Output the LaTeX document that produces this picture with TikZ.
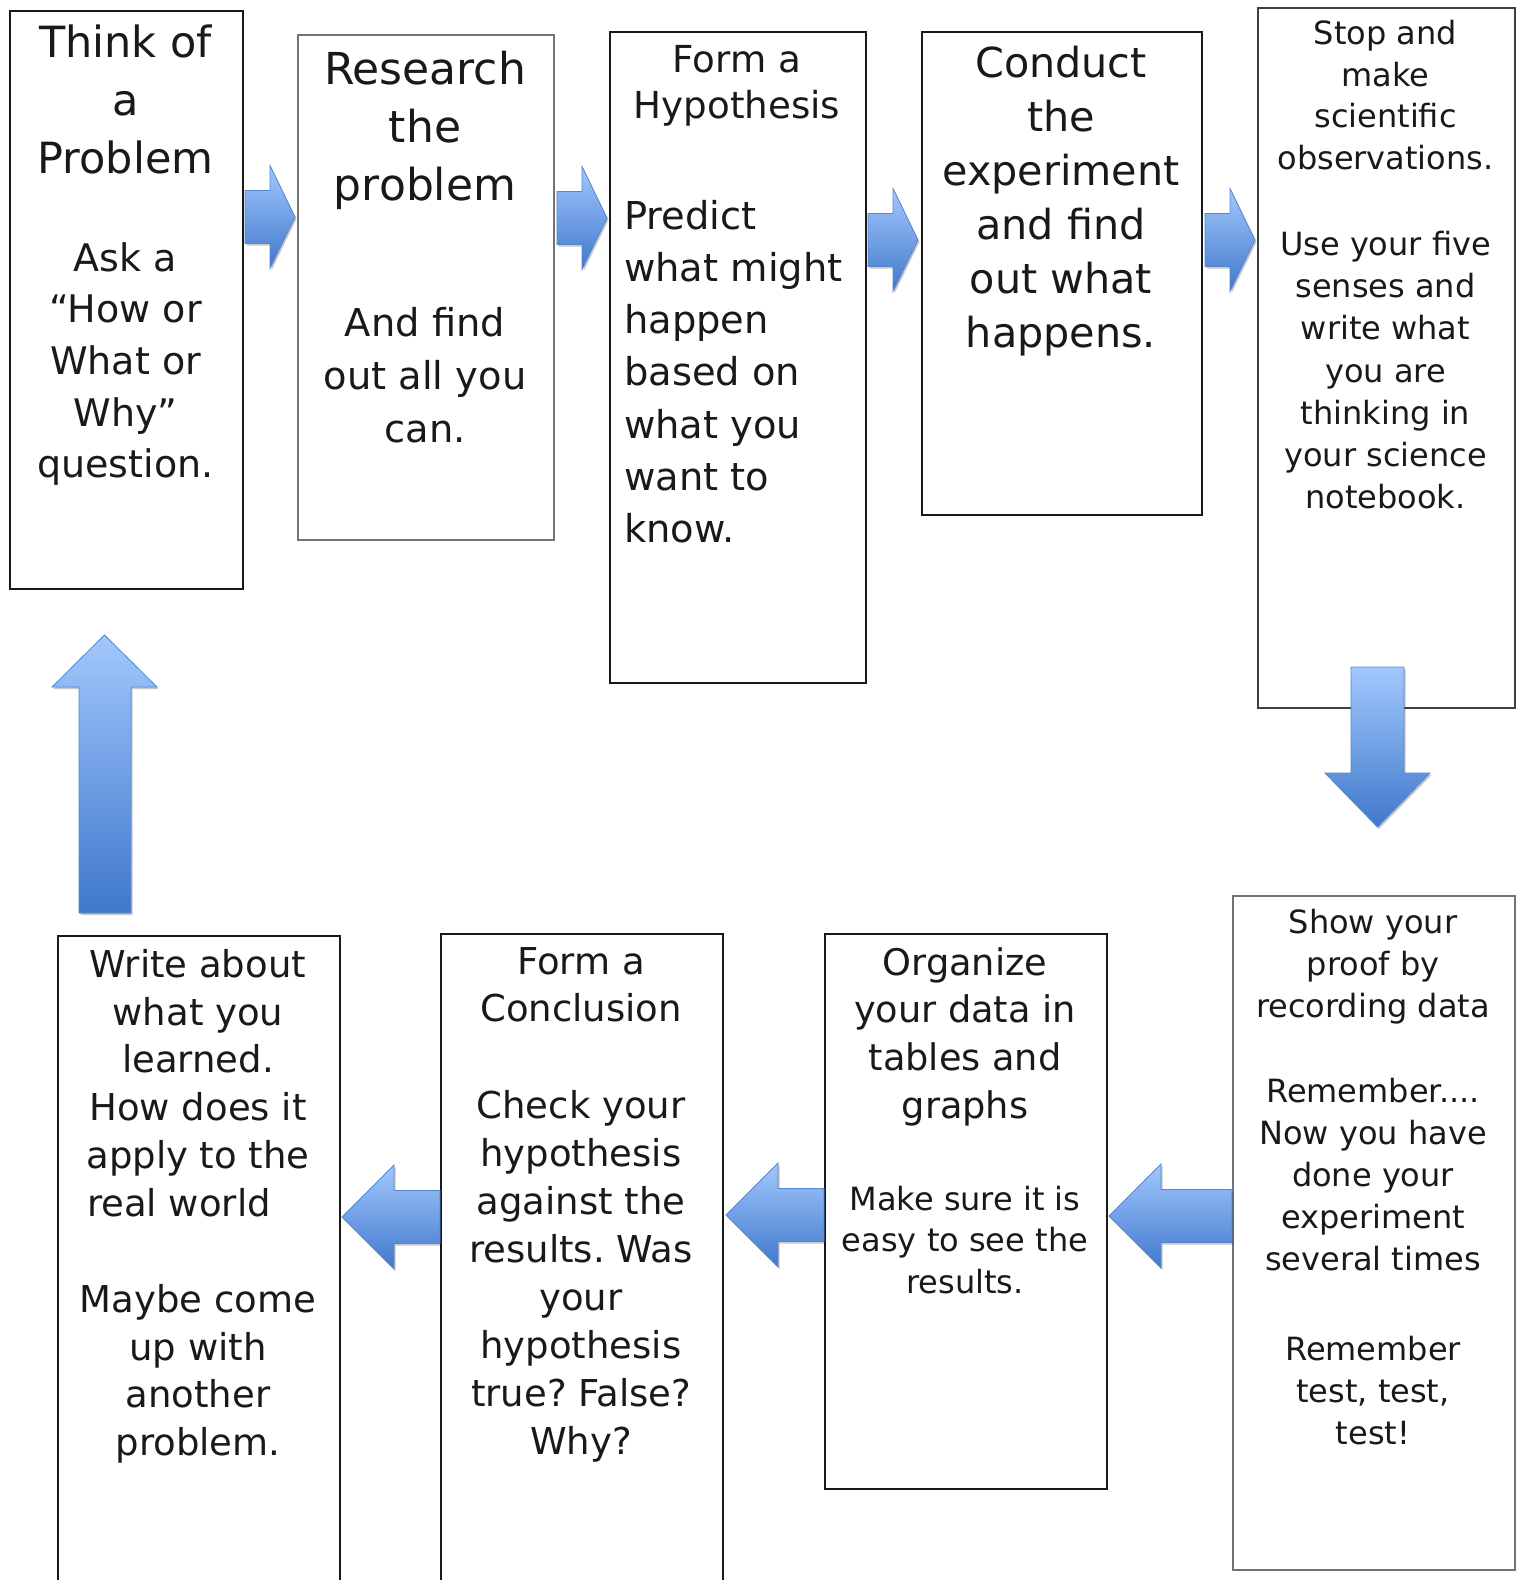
\documentclass[tikz,border=0pt]{standalone}
\usepackage{fontspec}
\setmainfont{DejaVu Sans}
\usetikzlibrary{shadows}
\frenchspacing
\definecolor{atop}{RGB}{162,200,253}
\definecolor{abot}{RGB}{64,120,204}
\definecolor{aedge}{RGB}{86,134,206}
\newcommand{\fsz}[2]{\fontsize{#1}{#2}\selectfont\frenchspacing}
\tikzset{
  box/.style={draw=black!90, line width=1.6pt, fill=white, inner sep=0pt, anchor=north west},
  lightbox/.style={box, draw=black!55},
  txt/.style={inner sep=0pt, align=center, anchor=north, text=black!90, yshift=-3pt},
  barrow/.style={top color=atop, bottom color=abot, draw=aedge, line width=0.8pt, line join=miter,
    drop shadow={shadow xshift=1.5pt, shadow yshift=-2pt, opacity=0.22, fill=black, draw=none}},
}
% right-pointing block arrow: tip x, centre y
\newcommand{\BlkR}[2]{\draw[barrow] ({#1-50},{#2-26.5}) -- ({#1-25},{#2-26.5}) -- ({#1-25},{#2-51.5}) -- (#1,#2) -- ({#1-25},{#2+51.5}) -- ({#1-25},{#2+26.5}) -- ({#1-50},{#2+26.5}) -- cycle;}
% left-pointing block arrow: tip x, centre y, tail x
\newcommand{\BlkL}[3]{\draw[barrow] (#3,{#2-26.5}) -- ({#1+52},{#2-26.5}) -- ({#1+52},{#2-52}) -- (#1,#2) -- ({#1+52},{#2+52}) -- ({#1+52},{#2+26.5}) -- (#3,{#2+26.5}) -- cycle;}
\begin{document}
\begin{tikzpicture}[x=1pt,y=-1pt]
\useasboundingbox (0,0) rectangle (1518,1580);
\fill[white] (0,0) rectangle (1518,1580);
% boxes
\node[box, minimum width=233pt, minimum height=578pt] (b1) at (9,10) {};
\node[lightbox, minimum width=256pt, minimum height=505pt] (b2) at (297,34) {};
\node[box, minimum width=256pt, minimum height=651pt] (b3) at (609,31) {};
\node[box, minimum width=280pt, minimum height=483pt] (b4) at (921,31) {};
\node[box, draw=black!75, minimum width=257pt, minimum height=700pt] (b5) at (1257,7) {};
\node[lightbox, minimum width=282pt, minimum height=674pt] (b6) at (1232,895) {};
\node[box, minimum width=282pt, minimum height=555pt] (b7) at (824,933) {};
\node[box, minimum width=282pt, minimum height=670pt] (b8) at (440,933) {};
\node[box, minimum width=282pt, minimum height=670pt] (b9) at (57,935) {};
% texts
\node[txt, font={\fsz{43}{58}}] (t1a) at (125.5,22) {Think of\\a\\Problem};
\node[txt, font={\fsz{38}{51.7}}] (t1b) at (125.5,239) {Ask a\\“How or\\What or\\Why”\\question.};
\node[txt, font={\fsz{44}{58}}] (t2a) at (425,47.5) {Research\\the\\problem};
\node[txt, font={\fsz{38.4}{53}}] (t2b) at (425,304) {And find\\out all you\\can.};
\node[txt, font={\fsz{37.2}{46.4}}] (t3a) at (737,42) {Form a\\Hypothesis};
\node[txt, anchor=north west, align=left, font={\fsz{38.4}{52.2}}] (t3b) at (624,197) {Predict\\what might\\happen\\based on\\what you\\want to\\know.};
\node[txt, font={\fsz{41.3}{54}}] (t4) at (1061,43) {Conduct\\the\\experiment\\and find\\out what\\happens.};
\node[txt, font={\fsz{32}{41.7}}] (t5a) at (1385.5,17) {Stop and\\make\\scientific\\observations.};
\node[txt, font={\fsz{32}{42.2}}] (t5b) at (1385.5,228) {Use your five\\senses and\\write what\\you are\\thinking in\\your science\\notebook.};
\node[txt, font={\fsz{32}{42}}] (t6a) at (1373,906) {Show your\\proof by\\recording data};
\node[txt, font={\fsz{32}{42}}] (t6b) at (1373,1075) {Remember....\\Now you have\\done your\\experiment\\several times};
\node[txt, font={\fsz{32}{42}}] (t6c) at (1373,1333) {Remember\\test, test,\\test!};
\node[txt, font={\fsz{36.7}{47.7}}] (t7a) at (965,944) {Organize\\your data in\\tables and\\graphs};
\node[txt, font={\fsz{32}{41.3}}] (t7b) at (965,1183) {Make sure it is\\easy to see the\\results.};
\node[txt, font={\fsz{37}{47.4}}] (t8a) at (581,944) {Form a\\Conclusion};
\node[txt, font={\fsz{37}{48}}] (t8b) at (581,1087) {Check your\\hypothesis\\against the\\results. Was\\your\\hypothesis\\true? False?\\Why?};
\node[txt, font={\fsz{37}{47.8}}] (t9a) at (198,946) {Write about\\what you\\learned.\\How does it\\apply to the\\real world\hspace*{1.03em}};
\node[txt, font={\fsz{37}{47.7}}] (t9b) at (198,1281) {Maybe come\\up with\\another\\problem.};
% block arrows between boxes
\BlkR{295}{217}
\BlkR{607}{218}
\BlkR{918}{240}
\BlkR{1255}{240}
\BlkL{1109}{1216}{1232}
\BlkL{726}{1215}{824}
\BlkL{342}{1217}{440}
% down arrow (b5 -> b6)
\draw[barrow] (1351,667) -- (1404,667) -- (1404,773) -- (1430,773) -- (1377.5,827) -- (1325,773) -- (1351,773) -- cycle;
% up arrow (b9 -> b1)
\draw[barrow] (79,913) -- (79,687) -- (52,687) -- (104.5,635) -- (157,687) -- (131,687) -- (131,913) -- cycle;
\end{tikzpicture}
\end{document}
